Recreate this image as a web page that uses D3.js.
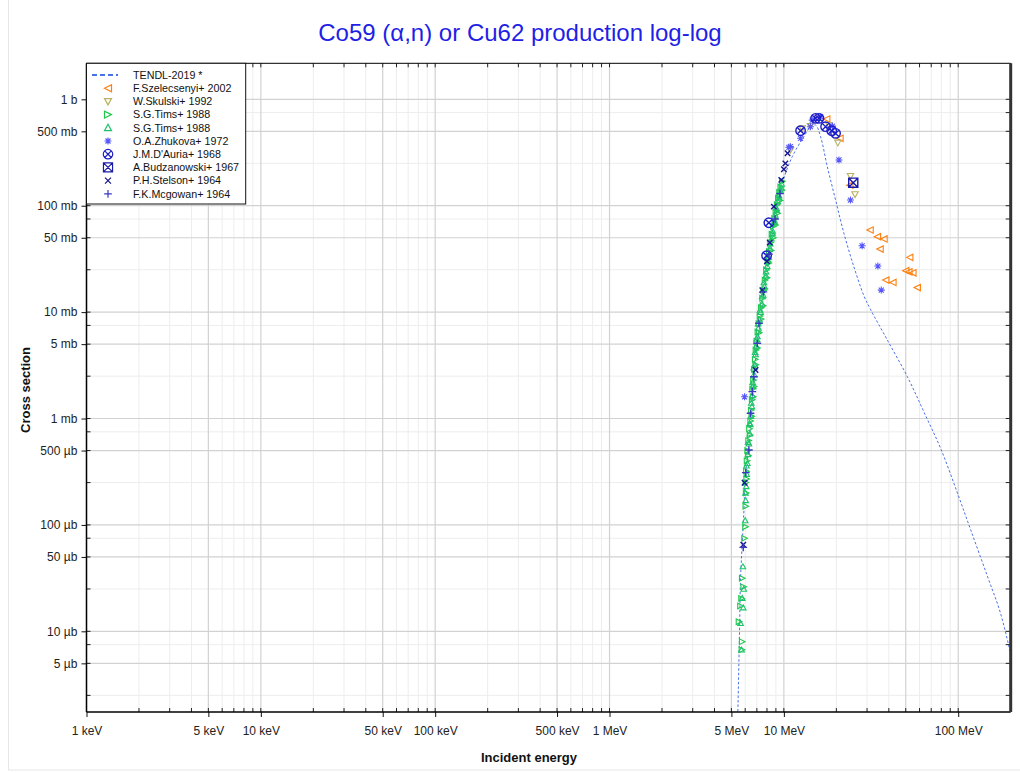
<!DOCTYPE html>
<html><head><meta charset="utf-8">
<script src="https://cdn.jsdelivr.net/npm/d3@7/dist/d3.min.js"></script>
<style>body{margin:0;background:#fff}svg{display:block;font-family:"Liberation Sans",Arial,sans-serif}</style>
</head><body><svg id="c" width="1020" height="773"></svg>
<script>
// ---- data (energy in MeV, cross section in mb) ----
const tendl = [[5.42,0.0012],[5.57,0.0103],[5.64,0.0303],[5.89,0.129],[6.03,0.31],[6.30,0.54],[6.50,1.12],[6.73,2.3],[6.97,4.6],[7.32,7.9],[7.58,12.9],[7.85,19.9],[8.03,26.7],[8.58,55],[9.17,98],[9.79,162],[11.17,289],[13.02,445],[14.23,553],[15.2,573],[16.24,445],[17.75,232],[19.8,113],[22.1,55],[25.2,26.7],[28.8,14.2],[31.5,10.5],[39.2,5.47],[51.1,2.47],[63.6,1.15],[79.4,0.52],[98.9,0.2],[118,0.0895],[147,0.033],[174.8,0.0148],[199.5,0.0062]];
const szelecsenyi = [[17.6,653],[20.96,430],[23.9,156],[31.2,59.1],[34.4,51.2],[37.5,48.7],[35.6,39.1],[52.7,32.7],[50,24.5],[52.1,23.9],[54.9,23.4],[38.4,20],[42.2,19],[58.2,17]];
const skulski = [[10.9,334],[12.75,534],[14.2,561],[18.1,573],[20.4,391],[24.1,190],[25.6,128]];
const timsA = [[5.53,0.0123],[5.64,0.0173],[5.72,0.0204],[5.77,0.0315],[5.77,0.008],[5.75,0.0067],[5.89,0.0262],[5.95,0.0748],[6.03,0.096],[6.05,0.15],[6.08,0.2],[6.06,0.25],[6.1,0.32],[6.15,0.4],[6.2,0.5],[6.28,0.62],[6.35,0.8],[6.45,0.95],[6.5,1.2],[6.58,1.5],[6.62,1.9],[6.7,2.3],[6.78,2.9],[6.85,3.6],[6.92,4.4],[7.0,5.3],[7.1,6.5],[7.2,7.8],[7.3,9.2],[7.42,11],[7.55,13.5],[7.65,16],[7.8,20],[7.95,25],[8.1,30],[8.25,37],[8.4,45],[8.55,54],[8.7,64],[8.85,76],[9.0,88],[9.15,102],[9.3,118],[9.45,133],[9.6,150],[9.8,170],[6.12,0.27],[6.25,0.45],[6.4,0.7],[6.55,1.05],[6.66,1.6],[6.75,2.0],[6.9,3.2],[7.05,4.6],[7.22,6.4],[7.4,8.6],[7.6,11.5],[7.78,16.5],[8.0,21],[8.2,29],[8.45,38],[8.7,50],[8.95,66],[9.2,85],[9.5,112],[9.75,140]];
const timsB = [[5.64,0.0119],[5.72,0.0067],[5.77,0.0205],[5.82,0.0406],[5.85,0.0167],[5.89,0.025],[6.0,0.11],[6.04,0.17],[6.08,0.23],[6.12,0.3],[6.17,0.38],[6.22,0.46],[6.3,0.58],[6.38,0.72],[6.42,0.88],[6.48,1.05],[6.55,1.3],[6.6,1.65],[6.66,2.0],[6.74,2.6],[6.8,3.2],[6.88,4.0],[6.95,4.8],[7.05,5.9],[7.15,7.1],[7.25,8.5],[7.36,10],[7.48,12],[7.6,14.5],[7.72,17.5],[7.88,22],[8.02,27],[8.18,33],[8.32,40],[8.48,49],[8.62,58],[8.78,70],[8.92,82],[9.08,95],[9.22,110],[9.38,125],[9.52,140],[9.7,160],[6.02,0.2],[6.1,0.36],[6.24,0.6],[6.36,0.9],[6.5,1.4],[6.62,2.2],[6.72,3.0],[6.84,4.2],[6.98,5.6],[7.12,7.8],[7.3,10.5],[7.5,14],[7.68,19],[7.9,24],[8.1,33],[8.35,44],[8.6,55],[8.85,72],[9.1,90],[9.4,118],[9.65,148]];
const zhukova = [[5.95,1.6],[10.68,354],[10.9,359],[12.47,430],[14.2,553],[14.55,638],[16.24,686],[19.0,560],[20.7,269],[24.1,113],[28.1,42],[34.6,27.1],[36.2,16.1]];
const dauria = [[7.96,33.9],[8.2,69.2],[12.47,507],[15.2,663],[15.9,663],[17.35,553],[18.8,507],[19.8,479]];
const budzanowski = [[25.0,164.6]];
const stelson = [[5.85,0.065],[5.95,0.249],[6.88,2.86],[7.52,16.1],[8.0,30],[8.3,45],[8.76,98],[9.66,175],[10.0,220],[10.2,250],[10.5,311]];
const mcgowan = [[5.85,0.0615],[6.05,0.31],[6.30,0.506],[6.44,1.12],[6.59,1.79],[6.73,2.47],[7.04,5.09],[7.19,7.85],[7.62,15.5],[8.2,35],[8.9,75],[9.5,130]];

const seriesNames = ["TENDL-2019 *","F.Szelecsenyi+ 2002","W.Skulski+ 1992","S.G.Tims+ 1988","S.G.Tims+ 1988","O.A.Zhukova+ 1972","J.M.D'Auria+ 1968","A.Budzanowski+ 1967","P.H.Stelson+ 1964","F.K.Mcgowan+ 1964"];
const seriesColors = ["#4a72e6","#ff7f0e","#bab25e","#1ec84a","#1fc46a","#5555ff","#1e1ec8","#1a1aa8","#15158e","#3a3ac0"];
const seriesShapes = ["line","triLeft","triDown","triRight","triUp","asterisk","circleX","squareX","xmark","plus"];
const seriesData = [tendl,szelecsenyi,skulski,timsA,timsB,zhukova,dauria,budzanowski,stelson,mcgowan];

const xLabelValues = [0.001,0.005,0.01,0.05,0.1,0.5,1,5,10,100];
const xLabelTexts = ["1 keV","5 keV","10 keV","50 keV","100 keV","500 keV","1 MeV","5 MeV","10 MeV","100 MeV"];
const yLabelValues = [1000,500,100,50,10,5,1,0.5,0.1,0.05,0.01,0.005];
const yLabelTexts = ["1 b","500 mb","100 mb","50 mb","10 mb","5 mb","1 mb","500 µb","100 µb","50 µb","10 µb","5 µb"];

// ---- layout ----
const L=86.5, R=1010.7, T=63.3, B=712;
const svg = d3.select("#c");
const x = d3.scaleLog().domain([0.001,200]).range([L,R]);
const y = d3.scaleLog().domain([0.001745,2180]).range([B,T]);

svg.append("rect").attr("x",8.5).attr("y",-2).attr("width",1020).attr("height",772).attr("fill","none").attr("stroke","#e6e6e6");

const xMinor=[], xMajor=[];
for(let e=-3;e<=2;e++) for(let k=1;k<=9;k++){const v=k*Math.pow(10,e); if(v<0.001*0.999||v>200*1.001) continue; (k===1||k===5?xMajor:xMinor).push(v);}
const yMinor=[], yMajor=[];
for(let e=-3;e<=3;e++) for(const k of [1,2.5,5,7.5]){const v=k*Math.pow(10,e); if(v<0.001745||v>2180) continue; (k===1||k===5?yMajor:yMinor).push(v);}

const g = svg.append("g");
g.selectAll(".xmin").data(xMinor).join("line").attr("x1",d=>x(d)).attr("x2",d=>x(d)).attr("y1",T).attr("y2",B).attr("stroke","#ededed").attr("stroke-width",1);
g.selectAll(".ymin").data(yMinor).join("line").attr("y1",d=>y(d)).attr("y2",d=>y(d)).attr("x1",L).attr("x2",R).attr("stroke","#ededed").attr("stroke-width",1);
g.selectAll(".xmaj").data(xMajor).join("line").attr("x1",d=>x(d)).attr("x2",d=>x(d)).attr("y1",T).attr("y2",B).attr("stroke","#d2d2d2").attr("stroke-width",1.2);
g.selectAll(".ymaj").data(yMajor).join("line").attr("y1",d=>y(d)).attr("y2",d=>y(d)).attr("x1",L).attr("x2",R).attr("stroke","#d2d2d2").attr("stroke-width",1.2);

svg.append("clipPath").attr("id","pc").append("rect").attr("x",L).attr("y",T).attr("width",R-L).attr("height",B-T);

svg.append("path").datum(tendl).attr("clip-path","url(#pc)")
  .attr("d", d3.line().x(d=>x(d[0])).y(d=>y(d[1])).curve(d3.curveCatmullRom.alpha(0.5)))
  .attr("fill","none").attr("stroke",seriesColors[0]).attr("stroke-width",1).attr("stroke-dasharray","2.5,2");

function shape(t,s){
  switch(t){
    case "triLeft": return `M${-s},0L${s},${-s}L${s},${s}Z`;
    case "triRight": return `M${s},0L${-s},${-s}L${-s},${s}Z`;
    case "triDown": return `M${-s},${-s*0.8}L${s},${-s*0.8}L0,${s*1.0}Z`;
    case "triUp": return `M${-s},${s*0.8}L${s},${s*0.8}L0,${-s*1.0}Z`;
    case "asterisk": {const a=s*0.72; return `M${-s},0L${s},0M0,${-s}L0,${s}M${-a},${-a}L${a},${a}M${-a},${a}L${a},${-a}`;}
    case "circleX": {const r=s*1.35, a=r*0.7; return `M${r},0A${r},${r} 0 1,1 ${-r},0A${r},${r} 0 1,1 ${r},0M${-a},${-a}L${a},${a}M${-a},${a}L${a},${-a}`;}
    case "squareX": {const h=s*1.3; return `M${-h},${-h}H${h}V${h}H${-h}ZM${-h},${-h}L${h},${h}M${-h},${h}L${h},${-h}`;}
    case "xmark": {const a=s*0.85; return `M${-a},${-a}L${a},${a}M${-a},${a}L${a},${-a}`;}
    case "plus": {const a=s*1.1; return `M${-a},0L${a},0M0,${-a}L0,${a}`;}
  }
}
const MS = [0,3.2,3.2,2.8,2.8,3.5,3.5,3.5,3.2,3.5];
for(let i=1;i<seriesData.length;i++){
  svg.append("g").selectAll("path").data(seriesData[i]).join("path")
    .attr("transform",d=>`translate(${x(d[0])},${y(d[1])})`)
    .attr("d",shape(seriesShapes[i],MS[i]))
    .attr("fill","none").attr("stroke",seriesColors[i]).attr("stroke-width",i>=6?1.4:1.1);
}

const xAx = svg.append("g").attr("transform",`translate(0,${B})`)
  .call(d3.axisBottom(x).tickValues(xLabelValues).tickFormat((d,i)=>xLabelTexts[i]).tickSize(5).tickSizeOuter(0));
const yAx = svg.append("g").attr("transform",`translate(${L},0)`)
  .call(d3.axisLeft(y).tickValues(yLabelValues).tickFormat((d,i)=>yLabelTexts[i]).tickSize(5).tickSizeOuter(0));
[xAx,yAx].forEach(a=>{a.select(".domain").remove(); a.selectAll("text").attr("font-size",12).attr("fill","#222").attr("font-family","'Liberation Sans',Arial,sans-serif"); a.selectAll("line").attr("stroke","#111");});
xAx.selectAll("text").attr("dy","1.25em");
yAx.selectAll("text").attr("dx","-0.1em");

const tk = svg.append("g").attr("stroke","#222").attr("stroke-width",1);
xMinor.concat(xMajor).forEach(v=>{const px=x(v);
  tk.append("line").attr("x1",px).attr("x2",px).attr("y1",B).attr("y2",B-4);
  tk.append("line").attr("x1",px).attr("x2",px).attr("y1",T).attr("y2",T+4);});
yMinor.concat(yMajor).forEach(v=>{const py=y(v);
  tk.append("line").attr("y1",py).attr("y2",py).attr("x1",L).attr("x2",L+4);
  tk.append("line").attr("y1",py).attr("y2",py).attr("x1",R).attr("x2",R-5);});

svg.append("line").attr("x1",L).attr("x2",R).attr("y1",T).attr("y2",T).attr("stroke","#000").attr("stroke-width",1);
svg.append("line").attr("x1",L).attr("x2",R).attr("y1",B).attr("y2",B).attr("stroke","#000").attr("stroke-width",1.5);
svg.append("line").attr("x1",L).attr("x2",L).attr("y1",T).attr("y2",B).attr("stroke","#000").attr("stroke-width",1.5);
svg.append("line").attr("x1",R).attr("x2",R).attr("y1",T).attr("y2",B).attr("stroke","#333").attr("stroke-width",3);

const lg = svg.append("g");
lg.append("rect").attr("x",L).attr("y",T).attr("width",245.7-L).attr("height",204-T).attr("fill","#fff").attr("stroke","#111").attr("stroke-width",1);
seriesNames.forEach((n,i)=>{
  const cy = 75 + i*13.2;
  if(seriesShapes[i]==="line"){
    lg.append("line").attr("x1",92).attr("x2",118).attr("y1",cy).attr("y2",cy).attr("stroke",seriesColors[i]).attr("stroke-width",1.8).attr("stroke-dasharray","5,3");
  } else {
    lg.append("path").attr("transform",`translate(108,${cy})`).attr("d",shape(seriesShapes[i],3.5)).attr("fill","none").attr("stroke",seriesColors[i]).attr("stroke-width",1.2);
  }
  lg.append("text").attr("x",133).attr("y",cy).attr("dy","0.35em").attr("font-size",10.7).attr("fill","#111").text(n);
});

svg.append("text").attr("x",520).attr("y",41).attr("text-anchor","middle").attr("font-size",24).attr("fill","#1f1fe6").text("Co59 (α,n) or Cu62 production log-log");
svg.append("text").attr("x",529).attr("y",762).attr("text-anchor","middle").attr("font-size",13).attr("font-weight","bold").attr("fill","#111").text("Incident energy");
svg.append("text").attr("transform","translate(30,390) rotate(-90)").attr("text-anchor","middle").attr("font-size",13).attr("font-weight","bold").attr("fill","#111").text("Cross section");
</script></body></html>
